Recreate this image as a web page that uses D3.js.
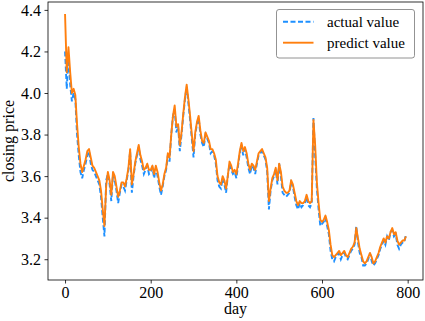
<!DOCTYPE html>
<html><head><meta charset="utf-8">
<script src="https://cdn.jsdelivr.net/npm/d3@7"></script>
<style>
html,body{margin:0;padding:0;background:#fff;}
text{font-family:"Liberation Serif","Times New Roman",serif;fill:#000;}
</style></head>
<body>
<script>
// sampling step in days
const dayStep = 4;
const actualValues = [
4.20,4.02,4.18,4.04,3.96,4.00,3.97,3.80,3.70,3.62,3.59,3.63,3.66,3.70,3.72,3.66,3.63,3.62,3.60,3.58,
3.56,3.50,3.40,3.31,3.58,3.61,3.56,3.48,3.61,3.58,3.53,3.47,3.52,3.56,3.55,3.53,3.58,3.63,3.72,3.52,
3.60,3.66,3.70,3.74,3.68,3.65,3.61,3.63,3.65,3.61,3.62,3.64,3.59,3.64,3.60,3.55,3.51,3.55,3.60,3.63,
3.70,3.67,3.80,3.89,3.92,3.81,3.84,3.72,3.80,3.89,3.97,4.03,3.95,3.87,3.78,3.69,3.80,3.85,3.88,3.80,
3.76,3.74,3.80,3.78,3.76,3.71,3.72,3.70,3.66,3.58,3.55,3.54,3.59,3.56,3.52,3.60,3.66,3.63,3.61,3.62,
3.59,3.65,3.71,3.75,3.70,3.73,3.69,3.64,3.61,3.65,3.64,3.61,3.66,3.70,3.71,3.72,3.70,3.68,3.62,3.44,
3.53,3.58,3.60,3.63,3.56,3.66,3.60,3.52,3.51,3.50,3.51,3.52,3.57,3.55,3.50,3.46,3.44,3.47,3.45,3.46,
3.47,3.50,3.46,3.45,3.47,3.88,3.70,3.54,3.44,3.36,3.37,3.38,3.40,3.36,3.32,3.24,3.20,3.19,3.21,3.22,
3.23,3.20,3.22,3.23,3.21,3.20,3.22,3.24,3.25,3.27,3.36,3.28,3.23,3.21,3.17,3.17,3.18,3.20,3.23,3.19,
3.17,3.18,3.20,3.22,3.25,3.27,3.29,3.27,3.31,3.29,3.33,3.34,3.31,3.32,3.27,3.25,3.27,3.28,3.28,3.32
];
const predictValues = [
4.38,4.10,4.22,4.10,4.00,4.02,3.99,3.85,3.74,3.66,3.62,3.65,3.68,3.72,3.73,3.69,3.65,3.64,3.62,3.60,
3.58,3.53,3.44,3.36,3.55,3.62,3.58,3.51,3.62,3.60,3.55,3.50,3.53,3.57,3.57,3.55,3.59,3.64,3.73,3.56,
3.61,3.67,3.71,3.75,3.70,3.67,3.63,3.64,3.66,3.63,3.63,3.65,3.61,3.65,3.62,3.57,3.53,3.56,3.61,3.64,
3.71,3.69,3.80,3.89,3.94,3.84,3.85,3.75,3.81,3.90,3.98,4.04,3.97,3.89,3.80,3.72,3.81,3.86,3.89,3.82,
3.77,3.76,3.81,3.79,3.77,3.73,3.73,3.71,3.68,3.60,3.57,3.56,3.60,3.58,3.54,3.60,3.67,3.65,3.62,3.63,
3.61,3.66,3.72,3.76,3.72,3.74,3.71,3.66,3.63,3.66,3.65,3.63,3.67,3.71,3.72,3.73,3.71,3.69,3.64,3.48,
3.54,3.59,3.61,3.64,3.58,3.66,3.62,3.55,3.53,3.52,3.52,3.53,3.58,3.56,3.52,3.48,3.46,3.48,3.47,3.47,
3.48,3.51,3.48,3.47,3.48,3.87,3.75,3.57,3.47,3.39,3.38,3.39,3.41,3.38,3.34,3.27,3.22,3.21,3.22,3.23,
3.24,3.22,3.23,3.24,3.22,3.21,3.23,3.25,3.26,3.28,3.35,3.30,3.25,3.22,3.19,3.18,3.19,3.21,3.23,3.21,
3.18,3.19,3.21,3.23,3.26,3.28,3.30,3.28,3.31,3.30,3.33,3.35,3.32,3.33,3.29,3.27,3.28,3.29,3.29,3.31
];
const xTicks = [0, 200, 400, 600, 800];
const yTicks = [3.2, 3.4, 3.6, 3.8, 4.0, 4.2, 4.4];
const seriesNames = ["actual value", "predict value"];
const seriesColors = ["#1e90ff", "#ff7f0e"];

const W = 425, H = 321;
const L = 48, R = 423, T = 2, B = 280;
const svg = d3.select("body").append("svg").attr("width", W).attr("height", H);

const x = d3.scaleLinear().domain([-39.8, 835.8]).range([L, R]);
const y = d3.scaleLinear().domain([3.1, 4.438]).range([B, T]);

const line = d3.line().x((d, i) => x(i * dayStep)).y(d => y(d));

svg.append("path").datum(actualValues).attr("d", line)
  .attr("fill", "none").attr("stroke", seriesColors[0]).attr("stroke-width", 1.9)
  .attr("stroke-dasharray", "5,2.5");
svg.append("path").datum(predictValues).attr("d", line)
  .attr("fill", "none").attr("stroke", seriesColors[1]).attr("stroke-width", 1.9)
  .attr("stroke-linejoin", "round");

const fs = "16px";
const gx = svg.append("g").attr("transform", `translate(0,${B})`)
  .call(d3.axisBottom(x).tickValues(xTicks).tickSize(3.5).tickPadding(3.5).tickFormat(d3.format("d")));
const gy = svg.append("g").attr("transform", `translate(${L},0)`)
  .call(d3.axisLeft(y).tickValues(yTicks).tickSize(3.5).tickPadding(3.5).tickFormat(d3.format(".1f")));
[gx, gy].forEach(g => {
  g.select(".domain").remove();
  g.selectAll("line").attr("stroke", "#000").attr("stroke-width", 0.8);
  g.selectAll("text").style("font-family", '"Liberation Serif", serif').style("font-size", fs).attr("fill", "#000");
});

svg.append("rect").attr("x", L).attr("y", T).attr("width", R - L).attr("height", B - T)
  .attr("fill", "none").attr("stroke", "#000").attr("stroke-width", 0.8);

svg.append("text").attr("x", (L + R) / 2).attr("y", 314).attr("text-anchor", "middle")
  .style("font-size", fs).text("day");
svg.append("text").attr("transform", `translate(14,${(T + B) / 2}) rotate(-90)`)
  .attr("text-anchor", "middle").style("font-size", fs).text("closing price");

// legend
const lg = svg.append("g");
lg.append("rect").attr("x", 276.5).attr("y", 9.5).attr("width", 138).attr("height", 48.5)
  .attr("rx", 2.5).attr("fill", "#fff").attr("fill-opacity", 0.8)
  .attr("stroke", "#777").attr("stroke-width", 0.8);
seriesNames.forEach((name, i) => {
  const yy = 21.7 + i * 21;
  lg.append("line").attr("x1", 283).attr("x2", 313.5).attr("y1", yy).attr("y2", yy)
    .attr("stroke", seriesColors[i]).attr("stroke-width", 1.9)
    .attr("stroke-dasharray", i === 0 ? "5,2.5" : null);
  lg.append("text").attr("x", 327).attr("y", yy + 5).style("font-size", "15px").text(name);
});
</script>
</body></html>
